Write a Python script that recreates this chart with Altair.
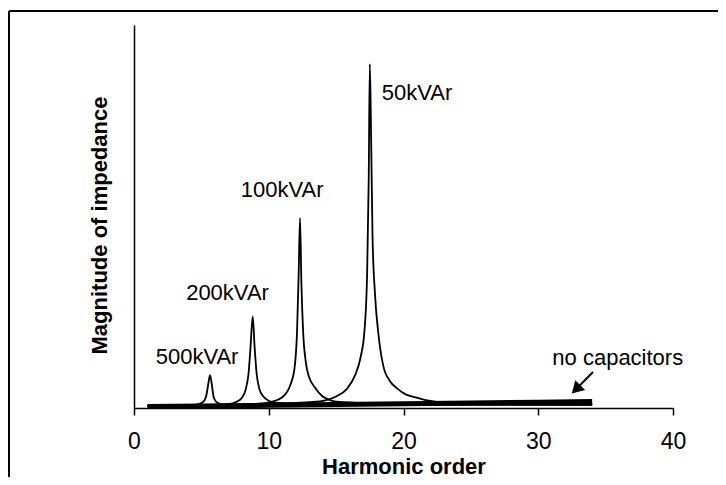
import altair as alt
import pandas as pd

FONT = "Liberation Sans"

# ---- data (x = harmonic order, y = relative impedance 0..100) ----
x_500 = [1.0, 3.0, 4.5, 5.1, 5.35, 5.5, 5.64, 5.78, 5.9, 6.1, 6.6, 10.0, 20.0, 34.0]
y_500 = [0.5, 0.6, 0.8, 1.5, 3.0, 6.0, 8.6, 6.0, 3.0, 1.6, 0.9, 0.8, 0.8, 0.8]

x_200 = [1.0, 4.0, 6.0, 7.0, 7.6, 8.0, 8.3, 8.5, 8.65, 8.81, 8.95, 9.1, 9.3, 9.6, 10.0, 10.5, 12.0, 18.0, 34.0]
y_200 = [0.5, 0.6, 0.8, 1.0, 1.6, 2.6, 5.0, 9.0, 16.0, 23.9, 16.0, 9.0, 5.0, 3.0, 1.9, 1.4, 1.1, 1.0, 0.9]

x_100 = [1.0, 5.0, 8.0, 9.5, 10.2, 11.0, 11.6, 11.9, 12.1, 12.22, 12.32, 12.42, 12.55, 12.75, 13.0, 13.4, 14.0, 14.6, 15.5, 18.0, 25.0, 34.0]
y_100 = [0.5, 0.7, 0.9, 1.2, 1.6, 2.8, 6.0, 10.0, 20.0, 35.0, 49.6, 33.0, 20.0, 12.0, 8.0, 5.5, 3.0, 2.0, 1.5, 1.2, 1.0, 0.9]

x_50 = [1.0, 4.0, 8.0, 11.0, 13.0, 14.2, 15.0, 15.8, 16.4, 16.8, 17.1, 17.3, 17.42, 17.5, 17.58, 17.7, 17.88, 18.15, 18.5, 19.0, 19.5, 20.2, 20.9, 21.9, 23.0, 26.0, 30.0, 34.0]
y_50 = [0.4, 0.6, 0.9, 1.2, 1.5, 2.0, 3.0, 5.0, 8.5, 13.0, 20.0, 35.0, 60.0, 89.8, 75.0, 45.0, 30.0, 19.0, 11.0, 7.0, 5.2, 3.5, 2.8, 1.9, 1.4, 1.1, 1.0, 1.0]

x_none = [1.0, 5.0, 10.0, 15.0, 20.0, 25.0, 30.0, 34.0]
y_none = [0.4, 0.5, 0.7, 0.9, 1.1, 1.3, 1.5, 1.7]

label_text = ["500kVAr", "200kVAr", "100kVAr", "50kVAr", "no capacitors"]
label_x = [4.68, 6.94, 11.0, 21.0, 35.9]
label_y = [13.3, 29.9, 56.8, 82.2, 13.0]

arrow_tail = (34.06, 9.4)
arrow_head = (32.8, 4.9)

x_ticks = [0, 10, 20, 30, 40]

# ---- tables ----
rows = []
for name, xs, ys in [("500kVAr", x_500, y_500), ("200kVAr", x_200, y_200),
                     ("100kVAr", x_100, y_100), ("50kVAr", x_50, y_50)]:
    for a, b in zip(xs, ys):
        rows.append({"series": name, "x": a, "y": b})
curves = pd.DataFrame(rows)
base_df = pd.DataFrame({"x": x_none, "y": y_none})
labels = pd.DataFrame({"text": label_text, "x": label_x, "y": label_y})
arrow_df = pd.DataFrame({"x": [arrow_tail[0]], "y": [arrow_tail[1]],
                         "x2": [arrow_head[0]], "y2": [arrow_head[1]]})
head_df = pd.DataFrame({"x": [arrow_head[0]], "y": [arrow_head[1]]})

xscale = alt.Scale(domain=[0, 40], nice=False, zero=False)
yscale = alt.Scale(domain=[0, 100], nice=False)

xaxis = alt.Axis(values=x_ticks, title="Harmonic order", grid=False,
                 domainColor="black", domainWidth=1.5, tickColor="black",
                 tickWidth=1.5, tickSize=7, labelFontSize=23, labelFont=FONT,
                 labelColor="black", labelPadding=15, labelFlush=False,
                 titleFont=FONT, titleFontSize=22, titleFontWeight="bold",
                 titleColor="black", titleY=58, titleBaseline="middle")
yaxis = alt.Axis(title="Magnitude of impedance", labels=False, ticks=False,
                 grid=False, domainColor="black", domainWidth=1.5,
                 titleFont=FONT, titleFontSize=22, titleFontWeight="bold",
                 titleColor="black", titleX=-35, titleY=200,
                 titleBaseline="middle", titleAlign="center", titleAngle=270)

lines = alt.Chart(curves).mark_line(color="black", strokeWidth=1.8, interpolate="monotone").encode(
    x=alt.X("x:Q", scale=xscale, axis=xaxis),
    y=alt.Y("y:Q", scale=yscale, axis=yaxis),
    detail="series:N",
    order="x:Q",
)

base_line = alt.Chart(base_df).mark_line(color="black", strokeWidth=5).encode(
    x=alt.X("x:Q", scale=xscale),
    y=alt.Y("y:Q", scale=yscale),
)

text = alt.Chart(labels).mark_text(font=FONT, fontSize=22, color="black",
                                   align="center", baseline="middle").encode(
    x=alt.X("x:Q", scale=xscale),
    y=alt.Y("y:Q", scale=yscale),
    text="text:N",
)

arrow = alt.Chart(arrow_df).mark_rule(color="black", strokeWidth=2).encode(
    x=alt.X("x:Q", scale=xscale), y=alt.Y("y:Q", scale=yscale),
    x2="x2:Q", y2="y2:Q",
)
head = alt.Chart(head_df).mark_point(shape="triangle-up", filled=True, color="black",
                                     size=190, angle=225, opacity=1).encode(
    x=alt.X("x:Q", scale=xscale), y=alt.Y("y:Q", scale=yscale),
)

# outer frame of the original figure (decoration)
frame_top = alt.Chart(head_df).mark_rule(color="black", strokeWidth=2).encode(
    x=alt.value(-125), x2=alt.value(584), y=alt.value(-14))
frame_left = alt.Chart(head_df).mark_rule(color="black", strokeWidth=2).encode(
    x=alt.value(-125), y=alt.value(-14), y2=alt.value(452))

chart = alt.layer(base_line, lines, text, arrow, head, frame_top, frame_left).properties(
    width=539, height=383,
    autosize=alt.AutoSizeParams(type="none"),
    padding={"left": 126, "top": 17, "right": 45, "bottom": 69},
    background="white",
).configure_view(stroke=None)

chart.save("out.html", embed_options={"renderer": "svg", "actions": False})
